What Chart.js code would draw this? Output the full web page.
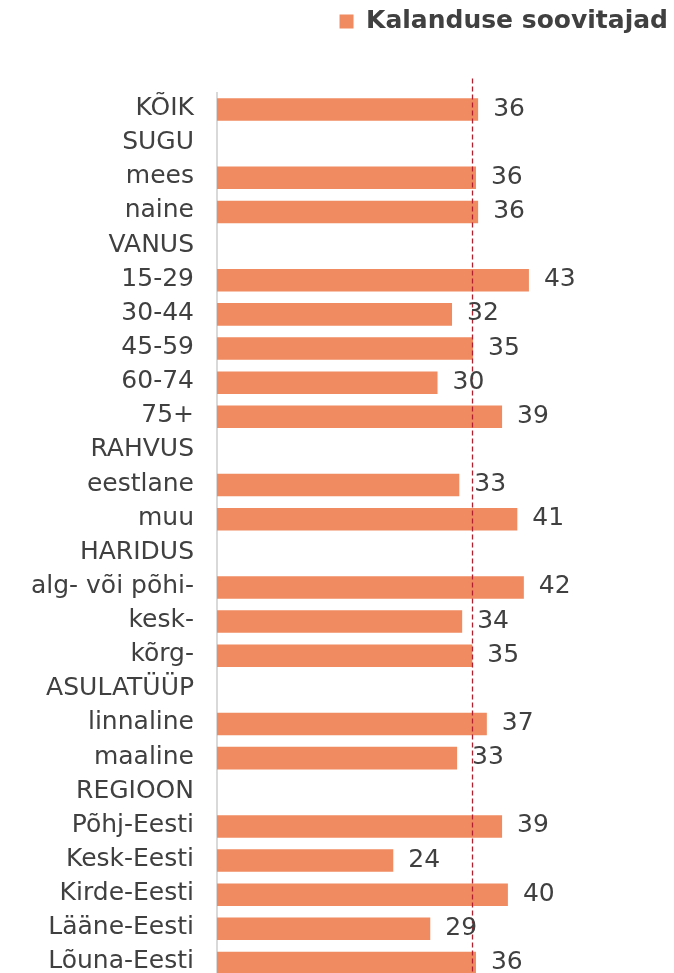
<!DOCTYPE html>
<html>
<head>
<meta charset="utf-8">
<script src="https://cdn.jsdelivr.net/npm/chart.js@4/dist/chart.umd.min.js"></script>
<style>
  html, body { margin: 0; padding: 0; background: #ffffff; overflow: hidden; }
  #wrap { width: 674px; height: 1018px; }
</style>
</head>
<body>
<div id="wrap"><canvas id="c" width="674" height="1018"></canvas></div>
<script>
// ---- data ----
const categories = [
  "KÕIK", "SUGU", "mees", "naine", "VANUS", "15-29", "30-44", "45-59", "60-74", "75+",
  "RAHVUS", "eestlane", "muu", "HARIDUS", "alg- või põhi-", "kesk-", "kõrg-",
  "ASULATÜÜP", "linnaline", "maaline", "REGIOON", "Põhj-Eesti", "Kesk-Eesti",
  "Kirde-Eesti", "Lääne-Eesti", "Lõuna-Eesti"
];
const seriesName = "Kalanduse soovitajad";
const values = [
  36.0, null, 35.7, 36.0, null, 43.0, 32.4, 35.3, 30.4, 39.3,
  null, 33.4, 41.4, null, 42.3, 33.8, 35.2,
  null, 37.2, 33.1, null, 39.3, 24.3,
  40.1, 29.4, 35.7
];
const referenceValue = 35.2;   // dashed reference line
const xMin = 0;
const xMax = 63;

// ---- styles ----
const barColor = "#F08B61";
const textColor = "#404040";
const fontFamily = "'DejaVu Sans', sans-serif";

const valueLabels = {
  id: "valueLabels",
  afterDatasetsDraw(chart) {
    const ctx = chart.ctx;
    const meta = chart.getDatasetMeta(0);
    ctx.save();
    ctx.font = "25px " + fontFamily;
    ctx.fillStyle = textColor;
    ctx.textAlign = "left";
    ctx.textBaseline = "alphabetic";
    meta.data.forEach((bar, i) => {
      const v = values[i];
      if (v === null || v === undefined) return;
      ctx.fillText(String(Math.round(v)), bar.x + 15, bar.y + 6);
    });
    ctx.restore();
  }
};

const refLine = {
  id: "refLine",
  afterDatasetsDraw(chart) {
    const ctx = chart.ctx;
    const x = Math.round(chart.scales.x.getPixelForValue(referenceValue)) + 0.5;
    const area = chart.chartArea;
    ctx.save();
    ctx.strokeStyle = "#B0202E";
    ctx.lineWidth = 1.3;
    ctx.setLineDash([5, 3]);
    ctx.beginPath();
    ctx.moveTo(x, area.top - 14);
    ctx.lineTo(x, area.bottom);
    ctx.stroke();
    ctx.restore();
  }
};

const legendGap = {
  id: "legendGap",
  afterInit(chart) {
    const lg = chart.legend;
    if (!lg || lg._gapPatched) return;
    const orig = lg.fit;
    lg.fit = function () {
      orig.call(this);
      this.height += 48.5;
    };
    lg._gapPatched = true;
  }
};

new Chart(document.getElementById("c"), {
  type: "bar",
  data: {
    labels: categories,
    datasets: [{
      label: seriesName,
      data: values,
      backgroundColor: barColor,
      borderWidth: 0,
      categoryPercentage: 1.0,
      barPercentage: 0.66
    }]
  },
  options: {
    indexAxis: "y",
    responsive: false,
    animation: false,
    events: [],
    layout: { padding: { top: 3, right: 0, bottom: 0, left: 0 } },
    scales: {
      x: {
        display: false,
        min: xMin,
        max: xMax
      },
      y: {
        grid: { display: false, drawTicks: false },
        border: { display: true, color: "#D9D9D9", width: 2 },
        ticks: {
          color: textColor,
          font: { family: fontFamily, size: 25 },
          padding: 23,
          labelOffset: -1,
          autoSkip: false
        },
        afterFit(scale) { scale.width = 217; }
      }
    },
    plugins: {
      legend: {
        display: true,
        position: "top",
        align: "end",
        labels: {
          color: textColor,
          font: { family: fontFamily, size: 25, weight: "bold" },
          boxWidth: 14,
          boxHeight: 14,
          padding: 6
        }
      },
      tooltip: { enabled: false }
    }
  },
  plugins: [legendGap, refLine, valueLabels]
});
</script>
</body>
</html>
